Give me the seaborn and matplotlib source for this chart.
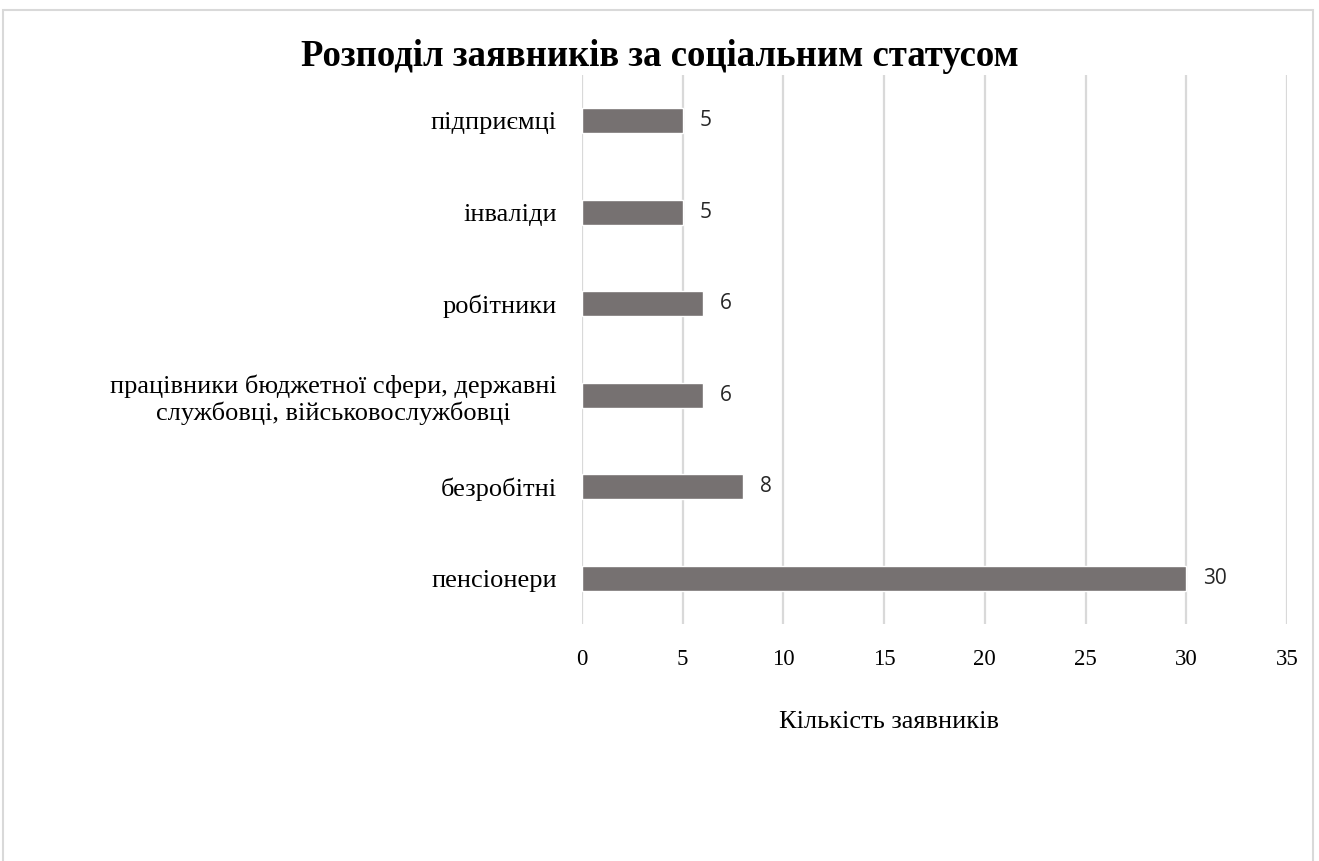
import matplotlib
matplotlib.use("Agg")
import matplotlib.pyplot as plt
import seaborn as sns
import pandas as pd
from matplotlib.patches import Rectangle

categories = [
    "підприємці",
    "інваліди",
    "робітники",
    "працівники бюджетної сфери, державні\nслужбовці, військовослужбовці",
    "безробітні",
    "пенсіонери",
]
values = [5, 5, 6, 6, 8, 30]
xticks = [0, 5, 10, 15, 20, 25, 30, 35]

title = "Розподіл заявників за соціальним статусом"
xlabel = "Кількість заявників"

sns.set_theme(style="white")
plt.rcParams["font.family"] = ["Liberation Serif", "DejaVu Serif"]
plt.rcParams["text.color"] = "black"

df = pd.DataFrame({"cat": categories, "val": values})

fig = plt.figure(figsize=(13.19, 8.61), dpi=100)
ax = fig.add_axes([582 / 1319, 1 - 624 / 861, 705 / 1319, (624 - 75) / 861])

sns.barplot(data=df, y="cat", x="val", orient="h", color="#767171",
            saturation=1, width=0.27, ax=ax, zorder=3)

ax.set_xlim(0, 35)
ax.set_xticks(xticks)
ax.set_xticklabels([str(t) for t in xticks], fontsize=16.5, color="black")
ax.tick_params(axis="x", length=0, pad=18)
ax.tick_params(axis="y", length=0, pad=18, labelsize=19, labelcolor="black")
for lbl in ax.get_yticklabels():
    lbl.set_horizontalalignment("right")
    lbl.set_multialignment("center")
ax.grid(axis="x", color="#d9d9d9", linewidth=1.6, zorder=0)
ax.set_axisbelow(True)
for s in ax.spines.values():
    s.set_visible(False)
ax.set_xlabel("")
ax.set_ylabel("")

ax.bar_label(ax.containers[0], labels=[str(v) for v in values], padding=12,
             fontsize=15, family="Open Sans", color="#262626")

fig.text(660 / 1319, 1 - 57 / 861, title, ha="center", va="center",
         fontsize=26.5, fontweight="bold", color="black")
fig.text(889 / 1319, 1 - 722 / 861, xlabel, ha="center", va="center",
         fontsize=19, color="black")

border = Rectangle((3 / 1319, -0.05), (1313 - 3) / 1319, 1.05 - 10 / 861,
                   transform=fig.transFigure, fill=False,
                   edgecolor="#d9d9d9", linewidth=1.5, clip_on=False)
fig.patches.append(border)

fig.savefig("out.png", dpi=100, facecolor="white")
